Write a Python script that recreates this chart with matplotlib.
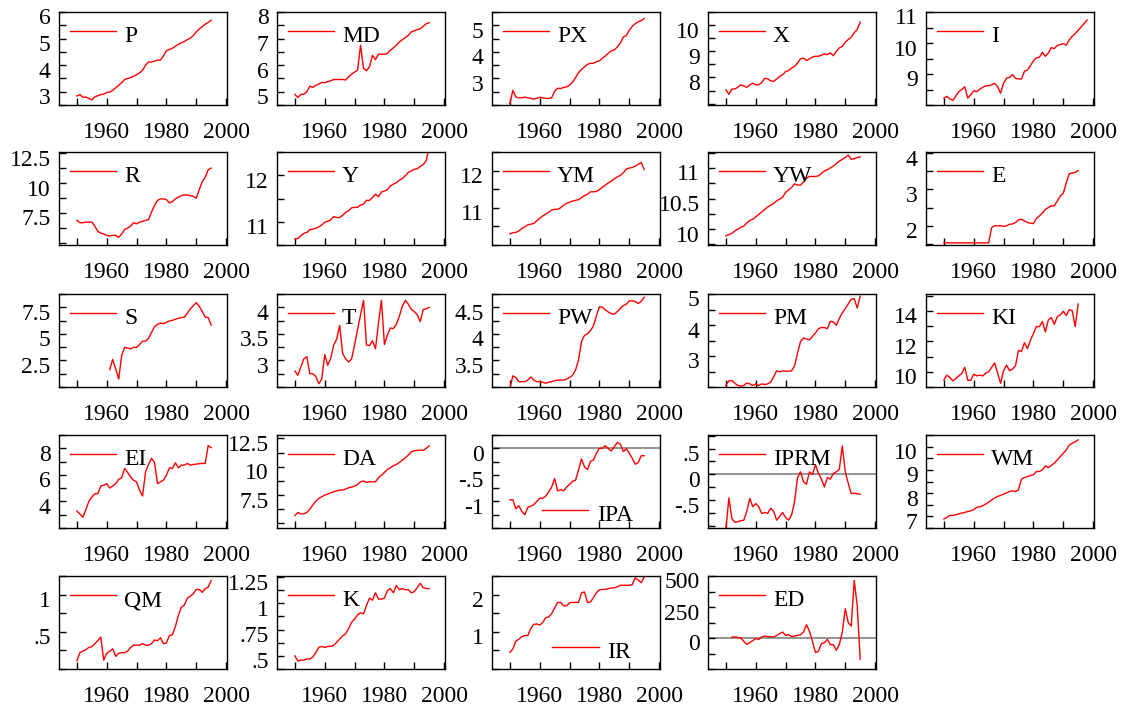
import matplotlib
matplotlib.use("Agg")
import matplotlib.pyplot as plt
from matplotlib import font_manager
from matplotlib.transforms import ScaledTranslation
from matplotlib.ticker import MultipleLocator, FuncFormatter

# Times-like serif, as in the original graph
installed = {f.name for f in font_manager.fontManager.ttflist}
serif_pick = "DejaVu Serif"
for cand in ["Liberation Serif", "Times New Roman", "Nimbus Roman", "DejaVu Serif"]:
    if cand in installed:
        serif_pick = cand
        break
plt.rcParams["font.family"] = [serif_pick, "DejaVu Sans"]
plt.rcParams["axes.unicode_minus"] = False

# ---- data: one value per year ----
p = [2.84, 2.89, 2.79, 2.80, 2.75, 2.69, 2.81, 2.85, 2.89, 2.91,
     2.97, 2.99, 3.05, 3.15, 3.24, 3.34, 3.46, 3.50, 3.53, 3.58,
     3.64, 3.71, 3.81, 4.00, 4.12, 4.12, 4.15, 4.19, 4.19, 4.35,
     4.54, 4.59, 4.64, 4.71, 4.78, 4.84, 4.89, 4.96, 5.02, 5.11,
     5.25, 5.36, 5.45, 5.54, 5.61, 5.69]
md = [4.90, 4.78, 4.90, 4.91, 5.00, 5.21, 5.16, 5.24, 5.29, 5.35,
      5.34, 5.38, 5.41, 5.46, 5.46, 5.46, 5.46, 5.44, 5.56, 5.66,
      5.74, 5.81, 6.75, 5.88, 5.79, 5.94, 6.37, 6.21, 6.41, 6.41,
      6.41, 6.44, 6.56, 6.65, 6.75, 6.87, 6.96, 7.04, 7.12, 7.25,
      7.29, 7.34, 7.37, 7.46, 7.56, 7.60]
px = [2.06, 2.55, 2.30, 2.27, 2.27, 2.30, 2.27, 2.25, 2.22, 2.25,
      2.29, 2.27, 2.25, 2.25, 2.27, 2.52, 2.63, 2.62, 2.66, 2.68,
      2.75, 2.86, 3.03, 3.22, 3.34, 3.44, 3.53, 3.57, 3.57, 3.63,
      3.66, 3.76, 3.85, 3.95, 4.04, 4.08, 4.18, 4.33, 4.56, 4.61,
      4.81, 4.96, 5.06, 5.13, 5.18, 5.25]
x_exp = [7.53, 7.36, 7.56, 7.56, 7.63, 7.72, 7.68, 7.62, 7.72, 7.78,
         7.72, 7.72, 7.81, 7.97, 7.95, 7.87, 7.85, 7.94, 8.04, 8.10,
         8.23, 8.26, 8.36, 8.42, 8.55, 8.71, 8.74, 8.65, 8.71, 8.78,
         8.81, 8.81, 8.85, 8.90, 8.87, 8.94, 8.83, 9.00, 9.13, 9.19,
         9.35, 9.45, 9.54, 9.71, 9.83, 10.12]
i_imp = [8.22, 8.28, 8.20, 8.15, 8.29, 8.43, 8.50, 8.59, 8.22, 8.33,
         8.46, 8.43, 8.51, 8.57, 8.62, 8.62, 8.65, 8.70, 8.59, 8.38,
         8.70, 8.87, 8.89, 8.98, 8.86, 8.84, 8.84, 9.09, 9.13, 9.27,
         9.43, 9.52, 9.54, 9.70, 9.57, 9.68, 9.85, 9.82, 9.92, 9.95,
         9.98, 9.93, 10.10, 10.22, 10.30, 10.41, 10.52, 10.63, 10.74]
r = [6.86, 6.67, 6.67, 6.72, 6.72, 6.72, 6.39, 5.94, 5.80, 5.72,
     5.61, 5.56, 5.61, 5.61, 5.44, 5.72, 6.11, 6.22, 6.39, 6.67,
     6.58, 6.72, 6.78, 6.86, 6.94, 7.56, 8.11, 8.53, 8.67, 8.67,
     8.61, 8.33, 8.44, 8.67, 8.81, 8.94, 9.00, 9.00, 8.94, 8.89,
     8.72, 9.44, 10.11, 10.47, 11.11, 11.25]
y = [10.63, 10.64, 10.70, 10.75, 10.77, 10.83, 10.84, 10.86, 10.89, 10.93,
     10.99, 11.01, 11.04, 11.11, 11.09, 11.09, 11.14, 11.20, 11.24, 11.30,
     11.31, 11.31, 11.36, 11.38, 11.46, 11.46, 11.52, 11.59, 11.54, 11.64,
     11.66, 11.69, 11.77, 11.81, 11.84, 11.89, 11.93, 11.99, 12.06, 12.09,
     12.13, 12.14, 12.19, 12.23, 12.31, 12.60]
ym = [10.30, 10.33, 10.34, 10.38, 10.44, 10.49, 10.54, 10.56, 10.58, 10.65,
      10.72, 10.78, 10.83, 10.88, 10.94, 10.96, 10.96, 11.00, 11.07, 11.12,
      11.15, 11.18, 11.20, 11.22, 11.27, 11.33, 11.36, 11.43, 11.43, 11.44,
      11.49, 11.55, 11.61, 11.67, 11.72, 11.78, 11.83, 11.87, 11.94, 12.04,
      12.07, 12.08, 12.12, 12.17, 12.22, 12.03]
yw = [9.89, 9.91, 9.93, 9.97, 10.00, 10.03, 10.05, 10.10, 10.14, 10.16,
      10.20, 10.24, 10.28, 10.32, 10.36, 10.39, 10.42, 10.46, 10.49, 10.52,
      10.60, 10.64, 10.68, 10.74, 10.72, 10.72, 10.77, 10.83, 10.86, 10.86,
      10.86, 10.87, 10.91, 10.95, 10.97, 11.00, 11.03, 11.07, 11.11, 11.14,
      11.17, 11.21, 11.14, 11.15, 11.17, 11.18]
e = [1.53, 1.53, 1.53, 1.53, 1.53, 1.53, 1.53, 1.53, 1.53, 1.53,
     1.53, 1.53, 1.53, 1.53, 1.53, 1.53, 1.95, 2.00, 2.00, 2.00,
     1.98, 2.00, 2.04, 2.05, 2.09, 2.16, 2.18, 2.13, 2.09, 2.07,
     2.06, 2.20, 2.27, 2.35, 2.45, 2.50, 2.55, 2.55, 2.68, 2.82,
     2.89, 3.18, 3.43, 3.45, 3.47, 3.52]
s = [1.64, 2.60, 1.70, 0.75, 2.98, 3.74, 3.67, 3.60, 3.74, 3.74,
     4.00, 4.32, 4.32, 4.58, 5.14, 5.68, 5.90, 6.03, 5.97, 6.10,
     6.23, 6.29, 6.39, 6.48, 6.55, 6.58, 6.96, 7.37, 7.66, 7.95,
     7.60, 7.13, 6.58, 6.55, 5.84]
t = [2.80, 2.72, 2.88, 3.03, 3.07, 2.75, 2.75, 2.70, 2.56, 2.65,
     3.11, 2.91, 3.04, 3.29, 3.40, 3.66, 3.13, 3.03, 2.97, 3.03,
     3.29, 3.58, 3.86, 4.13, 3.29, 3.28, 3.37, 3.22, 3.70, 4.13,
     3.30, 3.48, 3.61, 3.60, 3.68, 3.83, 4.02, 4.13, 4.06, 3.96,
     3.92, 3.86, 3.73, 3.96, 3.97, 4.00]
pw = [2.98, 3.21, 3.18, 3.10, 3.10, 3.10, 3.13, 3.19, 3.13, 3.10,
      3.10, 3.09, 3.07, 3.09, 3.10, 3.12, 3.13, 3.13, 3.13, 3.15,
      3.18, 3.22, 3.32, 3.51, 3.86, 3.97, 4.00, 4.06, 4.15, 4.34,
      4.51, 4.50, 4.45, 4.41, 4.38, 4.37, 4.42, 4.48, 4.53, 4.56,
      4.62, 4.62, 4.61, 4.57, 4.61, 4.69]
pm = [2.05, 2.20, 2.21, 2.12, 2.05, 2.03, 2.05, 2.13, 2.10, 2.05,
      2.10, 2.05, 2.10, 2.08, 2.10, 2.16, 2.33, 2.52, 2.49, 2.52,
      2.51, 2.51, 2.52, 2.68, 3.09, 3.47, 3.58, 3.55, 3.52, 3.63,
      3.74, 3.88, 3.92, 3.92, 3.88, 4.12, 4.10, 3.99, 4.21, 4.39,
      4.53, 4.68, 4.83, 4.85, 4.55, 4.93]
ki = [9.47, 9.78, 9.62, 9.40, 9.56, 9.73, 9.89, 10.29, 9.44, 9.44,
      9.84, 9.73, 9.78, 9.73, 9.91, 10.00, 10.29, 10.58, 9.91, 9.24,
      10.07, 10.44, 10.07, 10.18, 10.40, 11.40, 11.33, 11.91, 11.51, 12.07,
      12.51, 12.96, 12.96, 13.29, 12.62, 13.40, 13.56, 13.11, 13.62, 13.73,
      13.96, 13.69, 14.07, 14.00, 12.96, 14.44]
ei = [3.27, 3.06, 2.81, 3.39, 4.00, 4.33, 4.58, 4.58, 5.16, 5.22,
      5.34, 5.01, 5.16, 5.34, 5.67, 5.77, 6.48, 6.18, 5.85, 5.59,
      5.47, 4.84, 4.41, 6.23, 6.78, 7.24, 6.94, 5.34, 5.47, 5.60,
      5.97, 6.53, 6.48, 6.91, 6.53, 6.73, 6.73, 6.86, 6.73, 6.78,
      6.81, 6.84, 6.86, 6.86, 8.20, 8.05]
da = [5.68, 5.97, 5.85, 5.85, 5.97, 6.26, 6.62, 6.97, 7.21, 7.35,
      7.50, 7.59, 7.71, 7.79, 7.88, 7.94, 7.94, 8.03, 8.15, 8.21,
      8.29, 8.44, 8.68, 8.74, 8.62, 8.68, 8.68, 8.68, 9.03, 9.26,
      9.50, 9.76, 9.91, 10.09, 10.21, 10.38, 10.59, 10.79, 11.03, 11.32,
      11.41, 11.44, 11.47, 11.44, 11.62, 11.85]
ipa = [-0.97, -0.97, -1.14, -1.08, -1.19, -1.25, -1.11, -1.09, -1.06, -1.00,
       -0.94, -0.94, -0.90, -0.82, -0.73, -0.57, -0.80, -0.78, -0.80, -0.73,
       -0.68, -0.62, -0.60, -0.41, -0.20, -0.35, -0.40, -0.25, -0.22, -0.09,
       0.00, 0.00, 0.05, -0.01, -0.05, 0.03, 0.11, 0.08, -0.06, -0.01,
       -0.09, -0.19, -0.30, -0.27, -0.14, -0.14]
iprm = [-1.05, -0.45, -0.85, -0.92, -0.91, -0.89, -0.88, -0.71, -0.46, -0.62,
        -0.56, -0.62, -0.75, -0.73, -0.75, -0.65, -0.71, -0.88, -0.81, -0.73,
        -0.83, -0.88, -0.78, -0.53, -0.06, 0.05, -0.14, -0.19, 0.05, 0.00,
        0.19, 0.02, -0.09, -0.24, -0.06, -0.09, 0.02, 0.05, 0.10, 0.55,
        0.05, -0.17, -0.37, -0.36, -0.37, -0.38]
wm = [6.89, 6.96, 7.04, 7.04, 7.07, 7.11, 7.14, 7.17, 7.21, 7.24,
      7.29, 7.39, 7.41, 7.46, 7.53, 7.61, 7.70, 7.79, 7.86, 7.90,
      7.96, 8.01, 8.07, 8.10, 8.07, 8.14, 8.61, 8.67, 8.71, 8.76,
      8.79, 8.93, 8.93, 9.00, 9.17, 9.10, 9.19, 9.29, 9.43, 9.57,
      9.71, 9.86, 10.07, 10.14, 10.21, 10.29]
qm = [0.11, 0.22, 0.24, 0.26, 0.29, 0.30, 0.34, 0.38, 0.43, 0.12,
      0.21, 0.24, 0.27, 0.17, 0.21, 0.22, 0.22, 0.24, 0.29, 0.32,
      0.32, 0.32, 0.34, 0.32, 0.32, 0.34, 0.39, 0.38, 0.42, 0.34,
      0.35, 0.45, 0.46, 0.57, 0.72, 0.83, 0.86, 0.95, 0.98, 1.01,
      1.07, 1.07, 1.03, 1.08, 1.10, 1.19]
k = [0.50, 0.45, 0.46, 0.46, 0.47, 0.47, 0.49, 0.53, 0.58, 0.59,
     0.58, 0.59, 0.59, 0.60, 0.63, 0.66, 0.69, 0.71, 0.76, 0.82,
     0.85, 0.89, 0.91, 0.90, 0.98, 1.05, 1.03, 1.10, 1.04, 1.04,
     1.05, 1.12, 1.14, 1.10, 1.17, 1.13, 1.14, 1.13, 1.13, 1.10,
     1.11, 1.15, 1.19, 1.15, 1.14, 1.14]
ir = [0.45, 0.54, 0.75, 0.80, 0.87, 0.90, 0.90, 1.09, 1.20, 1.21,
      1.18, 1.25, 1.38, 1.40, 1.49, 1.64, 1.79, 1.79, 1.70, 1.70,
      1.78, 1.79, 1.79, 1.79, 2.05, 2.07, 1.79, 1.80, 1.92, 2.05,
      2.13, 2.14, 2.14, 2.16, 2.18, 2.18, 2.21, 2.25, 2.25, 2.25,
      2.25, 2.27, 2.45, 2.39, 2.32, 2.47]
ed = [8, 8, 5, 0, -27, -51, -38, -21, -5, -11,
      8, 16, 11, 11, 8, 21, 35, 48, 21, 27,
      11, 16, 21, 27, 48, 107, 54, -27, -118, -107,
      -46, -38, -11, -54, -54, -99, -54, 48, 236, 123,
      96, 464, 262, -171]

# name, series, first year, ylim, labelled y ticks, minor step, legend, zero line
panels = [
    ("P", p, 1950, (2.5, 6.0), [3, 4, 5, 6], 0.5, "top", False),
    ("MD", md, 1950, (4.5, 8.0), [5, 6, 7, 8], 0.5, "top", False),
    ("PX", px, 1950, (2.0, 5.5), [3, 4, 5], 0.5, "top", False),
    ("X", x_exp, 1950, (6.95, 10.5), [8, 9, 10], 0.5, "top", False),
    ("I", i_imp, 1950, (8.0, 11.0), [9, 10, 11], 0.5, "top", False),
    ("R", r, 1950, (4.8, 12.6), [7.5, 10, 12.5], 1.25, "top", False),
    ("Y", y, 1950, (10.5, 12.5), [11, 12], 0.5, "top", False),
    ("YM", ym, 1950, (10.0, 12.5), [11, 12], 0.5, "top", False),
    ("YW", yw, 1950, (9.74, 11.26), [10, 10.5, 11], 0.25, "top", False),
    ("E", e, 1950, (1.47, 4.03), [2, 3, 4], 0.5, "top", False),
    ("S", s, 1961, (0.0, 8.77), [2.5, 5, 7.5], 1.25, "top", False),
    ("T", t, 1950, (2.5, 4.25), [3, 3.5, 4], 0.25, "top", False),
    ("PW", pw, 1950, (3.0, 4.75), [3.5, 4, 4.5], 0.25, "top", False),
    ("PM", pm, 1950, (2.0, 5.0), [3, 4, 5], 0.5, "top", False),
    ("KI", ki, 1950, (9.0, 15.1), [10, 12, 14], 1.0, "top", False),
    ("EI", ei, 1950, (2.0, 9.0), [4, 6, 8], 1.0, "top", False),
    ("DA", da, 1950, (4.6, 12.8), [7.5, 10, 12.5], 1.25, "top", False),
    ("IPA", ipa, 1950, (-1.5, 0.25), [-1, -0.5, 0], 0.25, (0.30, 0.05), True),
    ("IPRM", iprm, 1950, (-1.03, 0.76), [-0.5, 0, 0.5], 0.25, "top", True),
    ("WM", wm, 1950, (6.5, 10.5), [7, 8, 9, 10], 0.5, "top", False),
    ("QM", qm, 1950, (0.0, 1.25), [0.5, 1], 0.25, "top", False),
    ("K", k, 1950, (0.375, 1.26), [0.5, 0.75, 1, 1.25], 0.125, "top", False),
    ("IR", ir, 1950, (0.0, 2.5), [1, 2], 0.5, (0.36, 0.095), False),
    ("ED", ed, 1952, (-250, 500), [0, 250, 500], 125, "top", True),
]


def stata_fmt(v, pos):
    txt = f"{v:g}"
    if txt.startswith("0."):
        txt = txt[1:]
    elif txt.startswith("-0."):
        txt = "-" + txt[2:]
    return txt


W, H = 1125, 708
FS = 17
col_left = [59, 277, 492, 708, 926]
row_top = [12, 152, 294, 435, 576]
pan_w, pan_h = 168, 93

fig = plt.figure(figsize=(W / 100, H / 100), dpi=100)
# labels in the original sit a few pixels below their ticks / legend keys
tick_drop = ScaledTranslation(0, -0.045, fig.dpi_scale_trans)
key_drop = ScaledTranslation(0, -0.03, fig.dpi_scale_trans)

for idx, (name, vals, start, ylim, yt, minor, leg, zero) in enumerate(panels):
    rr, cc = divmod(idx, 5)
    ax = fig.add_axes([col_left[cc] / W, 1 - (row_top[rr] + pan_h) / H,
                       pan_w / W, pan_h / H])
    years = list(range(start, start + len(vals)))
    if zero:
        ax.axhline(0, color="#808080", lw=1.2, zorder=1)
    ax.plot(years, vals, color="red", lw=1.0, label=name, zorder=2)

    ax.set_xlim(1944, 2000.3)
    ax.set_xticks([1950, 1960, 1970, 1980, 1990, 2000])
    ax.set_xticklabels(["", "1960", "", "1980", "", "2000"])
    ax.set_ylim(*ylim)
    ax.set_yticks(yt)
    ax.yaxis.set_major_formatter(FuncFormatter(stata_fmt))
    ax.yaxis.set_minor_locator(MultipleLocator(minor))

    ax.tick_params(axis="both", which="both", direction="in", width=1,
                   labelsize=FS, colors="black")
    ax.tick_params(axis="x", length=5, pad=12)
    ax.tick_params(axis="y", which="major", length=5, pad=6)
    ax.tick_params(axis="y", which="minor", length=5)
    for sp in ax.spines.values():
        sp.set_linewidth(1.0)
        sp.set_color("black")
    for lab in ax.get_yticklabels():
        lab.set_transform(lab.get_transform() + tick_drop)

    if leg == "top":
        lg = ax.legend(loc="upper left", frameon=False, fontsize=FS,
                       handlelength=1.95, handletextpad=0.35, borderpad=0,
                       borderaxespad=0.45)
    else:
        lg = ax.legend(loc="lower left", bbox_to_anchor=leg, frameon=False,
                       fontsize=FS, handlelength=1.95, handletextpad=0.35,
                       borderpad=0, borderaxespad=0)
    for txt in lg.get_texts():
        txt.set_transform(txt.get_transform() + key_drop)

fig.savefig("out.png", dpi=100)
